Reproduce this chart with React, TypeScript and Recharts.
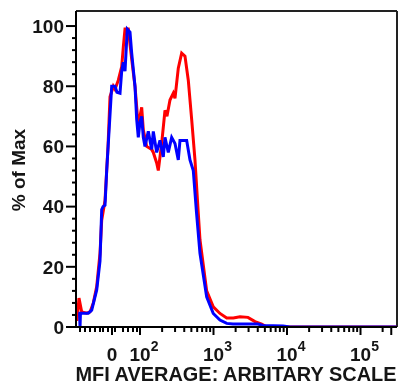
import { LineChart, Line, XAxis, YAxis, ReferenceLine } from "recharts";

// x positions are in display units of the biexponential axis (decades: 2 = 10^2)
const redX = [
  1.143, 1.17, 1.207, 1.275, 1.32, 1.365, 1.411, 1.456, 1.479, 1.524, 1.565,
  1.592, 1.637, 1.66, 1.705, 1.751, 1.773, 1.796, 1.841, 1.887, 1.932, 1.977,
  2.0, 2.023, 2.045, 2.091, 2.159, 2.181, 2.227, 2.249, 2.295, 2.34, 2.367,
  2.408, 2.453, 2.476, 2.521, 2.567, 2.612, 2.657, 2.703, 2.748, 2.782, 2.816,
  2.907, 2.997, 3.088, 3.18, 3.269, 3.361, 3.469, 3.565, 3.656, 3.724, 5.49,
];
const redY = [
  2, 9.6, 5, 4.6, 5, 8, 13.4, 24.5, 35.5, 42, 60, 76.5, 80, 79, 82, 86.5, 93,
  99, 99, 89, 80, 66.5, 70, 73, 65.5, 60, 59, 58, 54.5, 52, 61, 72, 70, 75.4,
  77.7, 76, 86, 91, 90, 82, 69, 55.5, 42, 29, 12, 6.7, 4.5, 3, 3, 3.4, 3.2,
  1.8, 1, 0, 0,
];

const blueX = [
  1.161, 1.178, 1.184, 1.19, 1.229, 1.297, 1.343, 1.411, 1.456, 1.479, 1.497,
  1.524, 1.547, 1.615, 1.66, 1.687, 1.728, 1.751, 1.773, 1.796, 1.827, 1.864,
  1.887, 1.932, 1.955, 1.977, 2.0, 2.023, 2.045, 2.068, 2.113, 2.159, 2.181,
  2.227, 2.272, 2.317, 2.34, 2.385, 2.431, 2.476, 2.521, 2.544, 2.635, 2.68,
  2.725, 2.769, 2.816, 2.907, 2.997, 3.088, 3.18, 3.265, 3.497, 3.605, 3.673,
  3.946, 4.041, 5.49,
];
const blueY = [
  4.6, 4.6, 0, 4.6, 4.6, 4.6, 5.6, 12.3, 22, 39, 40, 40.5, 52, 80, 80, 78,
  77.7, 85, 88, 85, 99, 98, 91, 80, 69, 63, 68, 70, 63, 60, 65, 59, 65, 58, 62,
  56.5, 63, 58, 63, 61, 55.5, 62, 62, 55.5, 52, 38, 24.5, 10, 4.5, 2.3, 1.2, 1,
  1, 1, 0.5, 0.3, 0, 0,
];

const xMajorTicks = [1.619, 2, 3, 4, 5];
const xMajorBase = ["0", "10", "10", "10", "10"];
const xMajorExp = ["", "2", "3", "4", "5"];
const xLowMinorTicks = [
  1.184, 1.252, 1.32, 1.388, 1.456, 1.497, 1.565, 1.66, 1.769, 1.837, 1.905,
  1.959,
];
const xEndTick = 5.4185;

const yMajorTicks = [0, 20, 40, 60, 80, 100];

const X_MIN = 1.1293;
const X_MAX = 5.4966;
const Y_MAX = 105;

const redData = redX.map((x, i) => ({ x, v: redY[i] }));
const blueData = blueX.map((x, i) => ({ x, v: blueY[i] }));

const logMinors: number[] = [];
for (let k = 2; k <= 4; k++) {
  for (let m = 2; m <= 9; m++) logMinors.push(k + Math.log10(m));
}
logMinors.push(5 + Math.log10(2));
const xTicks = [...xLowMinorTicks, ...xMajorTicks, ...logMinors, xEndTick].sort(
  (a, b) => a - b
);
const yTicks: number[] = [];
for (let v = 0; v <= 100; v += 4) yTicks.push(v);

const FONT = "'Liberation Sans', Arial, sans-serif";
const INK = "#151515";

const XTick = (props: any) => {
  const { x, y, payload } = props;
  const idx = xMajorTicks.indexOf(payload.value);
  const major = idx >= 0 || payload.value === xEndTick;
  return (
    <g>
      <line x1={x} x2={x} y1={y} y2={y + (major ? 8 : 5)} stroke="#000" strokeWidth={2} />
      {idx >= 0 && (
        <text
          x={x + (xMajorExp[idx] ? 4 : 0)}
          y={y + 34}
          textAnchor="middle"
          fontFamily={FONT}
          fontWeight="bold"
          fontSize={19}
          fill={INK}
        >
          {xMajorBase[idx]}
          {xMajorExp[idx] && (
            <tspan fontSize={14} dy={-10}>
              {xMajorExp[idx]}
            </tspan>
          )}
        </text>
      )}
    </g>
  );
};

const YTick = (props: any) => {
  const { x, y, payload } = props;
  const major = yMajorTicks.includes(payload.value);
  return (
    <g>
      <line x1={x - (major ? 10 : 4)} x2={x} y1={y} y2={y} stroke="#000" strokeWidth={2} />
      {major && (
        <text
          x={x - 12}
          y={y}
          dy="0.36em"
          textAnchor="end"
          fontFamily={FONT}
          fontWeight="bold"
          fontSize={19}
          fill={INK}
        >
          {payload.value}
        </text>
      )}
    </g>
  );
};

export default function App() {
  return (
    <div style={{ position: "fixed", left: 0, top: 0, width: 399, height: 388 }}>
      <LineChart
        width={399}
        height={388}
        margin={{ top: 11, right: 2, left: 0, bottom: 0 }}
      >
        <XAxis
          dataKey="x"
          type="number"
          domain={[X_MIN, X_MAX]}
          allowDataOverflow
          ticks={xTicks}
          interval={0}
          tick={<XTick />}
          tickLine={false}
          tickSize={0}
          tickMargin={0}
          height={61}
          axisLine={{ stroke: "#000", strokeWidth: 2 }}
          label={{
            content: () => (
              <text
                x={236}
                y={381}
                textAnchor="middle"
                textLength={321}
                lengthAdjust="spacingAndGlyphs"
                fontFamily={FONT}
                fontWeight="bold"
                fontSize={20}
                fill={INK}
              >
                MFI AVERAGE: ARBITARY SCALE
              </text>
            ),
          }}
        />
        <YAxis
          type="number"
          domain={[0, Y_MAX]}
          allowDataOverflow
          ticks={yTicks}
          interval={0}
          tick={<YTick />}
          tickLine={false}
          tickSize={0}
          tickMargin={0}
          width={76}
          axisLine={{ stroke: "#000", strokeWidth: 2 }}
          label={{
            content: () => (
              <text
                x={18}
                y={170}
                dy="0.35em"
                textAnchor="middle"
                transform="rotate(-90 18 170)"
                fontFamily={FONT}
                fontWeight="bold"
                fontSize={19}
                fill={INK}
              >
                % of Max
              </text>
            ),
          }}
        />
        <ReferenceLine y={Y_MAX} stroke="#222" strokeWidth={2} />
        <ReferenceLine x={X_MAX} stroke="#222" strokeWidth={2} />
        <Line
          data={redData}
          dataKey="v"
          type="linear"
          stroke="#ff0000"
          strokeWidth={3}
          dot={false}
          isAnimationActive={false}
        />
        <Line
          data={blueData}
          dataKey="v"
          type="linear"
          stroke="#0000ff"
          strokeWidth={3}
          dot={false}
          isAnimationActive={false}
        />
      </LineChart>
    </div>
  );
}
